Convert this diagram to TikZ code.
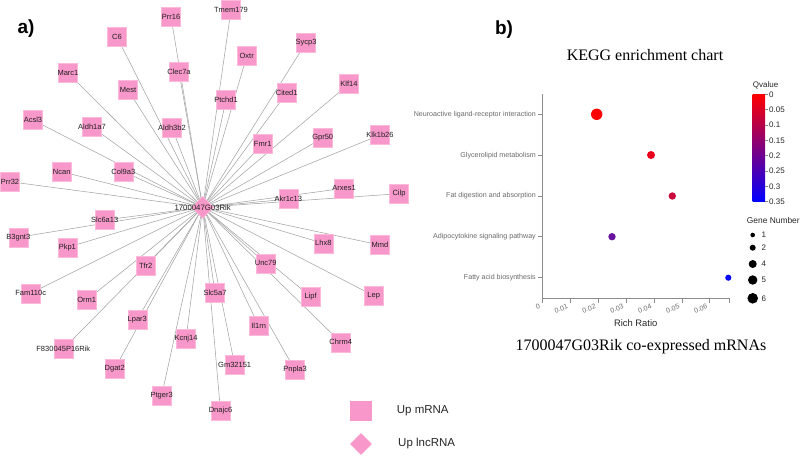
\documentclass[tikz,border=0pt]{standalone}
\usepackage{fontspec}
\setmainfont{Liberation Serif}
\setsansfont{Liberation Sans}
\usetikzlibrary{shapes.geometric}
\pgfdeclarelayer{background}
\pgfsetlayers{background,main}
\definecolor{pinkbox}{RGB}{248,152,202}
\definecolor{pinkedge}{RGB}{252,185,218}
\definecolor{edgegray}{RGB}{165,165,165}
\definecolor{axisgray}{RGB}{140,140,140}
\definecolor{labgray}{RGB}{105,105,105}
\definecolor{qa}{RGB}{255,0,0}
\definecolor{qb}{RGB}{232,0,28}
\definecolor{qc}{RGB}{200,10,60}
\definecolor{qd}{RGB}{105,20,160}
\definecolor{qe}{RGB}{10,10,245}
\begin{document}
\begin{tikzpicture}[x=1pt,y=-1pt,
  genelabel/.style={font=\sffamily\fontsize{7.5}{8}\selectfont, text=black!88, inner sep=0pt},
  gene/.style={rectangle, fill=pinkbox, draw=pinkedge, line width=0.5pt, minimum size=19pt, inner sep=0pt, label={[genelabel]center:#1}},
  hub/.style={diamond, aspect=1, fill=pinkbox, draw=pinkedge, line width=0.5pt, minimum width=22pt, minimum height=22pt, inner sep=0pt},
  edge/.style={draw=edgegray, line width=0.55pt},
  panel/.style={font=\sffamily\bfseries\fontsize{19}{22}\selectfont, inner sep=0pt},
  legtext/.style={font=\sffamily\fontsize{11.5}{13}\selectfont, anchor=west, inner sep=0pt, text=black!85},
  catlabel/.style={font=\sffamily\fontsize{7.1}{8}\selectfont, text=labgray, anchor=east, inner sep=0pt},
  xtlabel/.style={font=\sffamily\fontsize{7}{8}\selectfont, text=labgray, anchor=east, rotate=20, inner sep=0pt},
  small/.style={font=\sffamily\fontsize{8}{9}\selectfont, inner sep=0pt, text=black!85},
  axisline/.style={draw=axisgray, line width=0.6pt},
  dot/.style={circle, inner sep=0pt, minimum size=#1},
]
\useasboundingbox (0,0) rectangle (800,456);

% ---------- panel a ----------
\node[panel] (pa) at (26,29) {a)};

\node[hub, label={[genelabel, font=\sffamily\fontsize{7.8}{8}\selectfont]center:1700047G03Rik}] (c) at (202.7,207.3) {};

\node[gene=Prr16] (prr16) at (171,17) {};
\node[gene=Tmem179] (tmem179) at (231,10) {};
\node[gene=C6] (c6) at (117,37) {};
\node[gene=Clec7a] (clec7a) at (179,72) {};
\node[gene=Oxtr] (oxtr) at (246.7,56) {};
\node[gene=Sycp3] (sycp3) at (306,42.7) {};
\node[gene=Marc1] (marc1) at (68,73) {};
\node[gene=Mest] (mest) at (128,90) {};
\node[gene=Ptchd1] (ptchd1) at (226,100) {};
\node[gene=Cited1] (cited1) at (286.7,93) {};
\node[gene=Klf14] (klf14) at (349,84) {};
\node[gene=Acsl3] (acsl3) at (33,120) {};
\node[gene=Aldh1a7] (aldh1a7) at (92,127) {};
\node[gene=Aldh3b2] (aldh3b2) at (172,128) {};
\node[gene=Fmr1] (fmr1) at (262.7,144) {};
\node[gene=Gpr50] (gpr50) at (322.7,138) {};
\node[gene=Klk1b26] (klk1b26) at (380,135) {};
\node[gene=Ncan] (ncan) at (61.7,171.7) {};
\node[gene=Col9a3] (col9a3) at (123.3,171.7) {};
\node[gene=Prr32] (prr32) at (10,181.7) {};
\node[gene=Arxes1] (arxes1) at (344,188.3) {};
\node[gene=Cilp] (cilp) at (399,193.7) {};
\node[gene=Akr1c13] (akr1c13) at (288.3,199) {};
\node[gene=Slc6a13] (slc6a13) at (104.7,220) {};
\node[gene=B3gnt3] (b3gnt3) at (18.3,237.3) {};
\node[gene=Pkp1] (pkp1) at (67.3,247.3) {};
\node[gene=Lhx8] (lhx8) at (323.3,243.3) {};
\node[gene=Mmd] (mmd) at (380,245) {};
\node[gene=Unc79] (unc79) at (265.7,263.3) {};
\node[gene=Tfr2] (tfr2) at (145.7,266) {};
\node[gene=Fam110c] (fam110c) at (30.7,293.3) {};
\node[gene=Orm1] (orm1) at (86.7,300) {};
\node[gene=Slc5a7] (slc5a7) at (215,292.7) {};
\node[gene=Lipf] (lipf) at (310.7,296.7) {};
\node[gene=Lep] (lep) at (373.7,295.7) {};
\node[gene=Lpar3] (lpar3) at (137.3,319.3) {};
\node[gene=F830045P16Rik] (f830) at (63.3,349) {};
\node[gene=Kcnj14] (kcnj14) at (186,339) {};
\node[gene=Il1rn] (il1rn) at (258.7,326) {};
\node[gene=Chrm4] (chrm4) at (340.7,342.3) {};
\node[gene=Dgat2] (dgat2) at (114.7,369) {};
\node[gene=Gm32151] (gm32151) at (234.7,365) {};
\node[gene=Pnpla3] (pnpla3) at (295,370) {};
\node[gene=Ptger3] (ptger3) at (161.7,395.7) {};
\node[gene=Dnajc6] (dnajc6) at (220.5,411) {};

\begin{pgfonlayer}{background}
\foreach \n in {prr16,tmem179,c6,clec7a,oxtr,sycp3,marc1,mest,ptchd1,cited1,klf14,acsl3,aldh1a7,aldh3b2,fmr1,gpr50,klk1b26,ncan,col9a3,prr32,arxes1,cilp,akr1c13,slc6a13,b3gnt3,pkp1,lhx8,mmd,unc79,tfr2,fam110c,orm1,slc5a7,lipf,lep,lpar3,f830,kcnj14,il1rn,chrm4,dgat2,gm32151,pnpla3,ptger3,dnajc6}
  \draw[edge] (c.center) -- (\n.center);
\end{pgfonlayer}

% legend
\node[rectangle, fill=pinkbox, minimum width=22pt, minimum height=20pt, inner sep=0pt] (legsq) at (361,410.7) {};
\node[legtext] (legsqt) at (396.7,411) {Up mRNA};
\node[hub, minimum width=22pt, minimum height=22pt, draw=none] (legdi) at (361,444) {};
\node[legtext] (legdit) at (398,444) {Up lncRNA};

% ---------- panel b ----------
\node[panel] (pb) at (504,30) {b)};
\node[font=\fontsize{16}{18}\selectfont, inner sep=0pt] (title) at (645,55) {KEGG enrichment chart};

% axes
\draw[axisline] (542.3,94) -- (542.3,298.3) -- (729,298.3);

% categories
\foreach \y/\t/\nm in {114.3/Neuroactive ligand-receptor interaction/ca,155.3/Glycerolipid metabolism/cb,196/Fat digestion and absorption/cc,236.7/Adipocytokine signaling pathway/cd,277.7/Fatty acid biosynthesis/ce}{
  \draw[axisline] (537.5,\y) -- (542.3,\y);
  \node[catlabel] (\nm) at (536,\y) {\t};
}

% x ticks
\foreach \i/\t in {0/0,1/0.01,2/0.02,3/0.03,4/0.04,5/0.05,6/0.06}{
  \pgfmathsetmacro{\xx}{542.3+27.9*\i}
  \draw[axisline] (\xx,298.3) -- (\xx,302.5);
  \node[xtlabel] (xt\i) at (\xx-2.5,306) {\t};
}
\draw[axisline] (729,298.3) -- (729,302.5);

\node[font=\sffamily\fontsize{9.4}{11}\selectfont, inner sep=0pt, text=black!85] (xlab) at (635.7,323.3) {Rich Ratio};
\node[font=\fontsize{16}{18}\selectfont, inner sep=0pt] (caption) at (641,346.7) {1700047G03Rik co-expressed mRNAs};

% points
\node[dot=11.4pt, fill=qa] (p1) at (596.7,114.3) {};
\node[dot=8pt, fill=qb] (p2) at (651,155) {};
\node[dot=7.4pt, fill=qc] (p3) at (672.3,196) {};
\node[dot=7.4pt, fill=qd] (p4) at (612,236.7) {};
\node[dot=6.2pt, fill=qe] (p5) at (728.3,277.7) {};

% colour bar
\node[small, anchor=west] (qv) at (752.7,85) {Qvalue};
\shade[top color=red, bottom color=blue] (752.7,94.3) rectangle (765,201.7);
\foreach \v/\t in {0/0,1/0.05,2/0.1,3/0.15,4/0.2,5/0.25,6/0.3,7/0.35}{
  \pgfmathsetmacro{\yy}{94.3+15.34*\v}
  \draw[axisline, line width=0.5pt] (765,\yy) -- (768,\yy);
  \node[small, anchor=west] (qt\v) at (769,\yy) {\t};
}

% gene number legend
\node[small, anchor=west, font=\sffamily\fontsize{8.4}{9}\selectfont] (gn) at (746.7,220) {Gene Number};
\foreach \y/\d/\t in {235/4.6pt/1,247.7/6pt/2,264/8pt/4,280/9.4pt/5,298.3/10.6pt/6}{
  \node[dot=\d, fill=black] (gd\t) at (752.7,\y) {};
  \node[small, anchor=west] (gl\t) at (761.5,\y) {\t};
}
\end{tikzpicture}
\end{document}
